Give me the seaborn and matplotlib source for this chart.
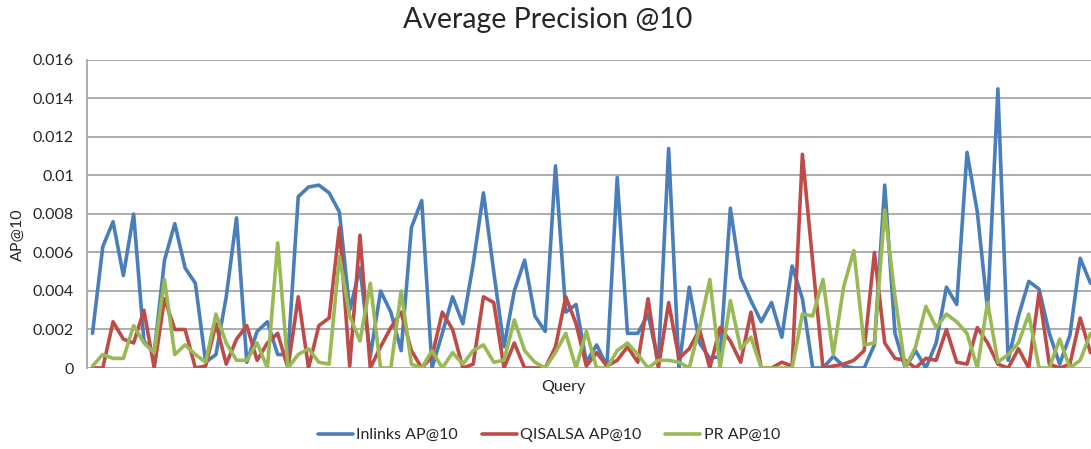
import numpy as np
import pandas as pd
import matplotlib
matplotlib.use("Agg")
import matplotlib.pyplot as plt
import seaborn as sns

# values (one value per query)
inlinks = [0.0018, 0.0063, 0.0076, 0.0048, 0.0080, 0.0014, 0.0008, 0.0056, 0.0075, 0.0052,
           0.0044, 0.0003, 0.0007, 0.0037, 0.0078, 0.0003, 0.0019, 0.0024, 0.0007, 0.0007,
           0.0089, 0.0094, 0.0095, 0.0091, 0.0081, 0.0030, 0.0052, 0.0006, 0.0040, 0.0029,
           0.0009, 0.0073, 0.0087, 0.0000, 0.0018, 0.0037, 0.0023, 0.0054, 0.0091, 0.0050,
           0.0011, 0.0040, 0.0056, 0.0027, 0.0019, 0.0105, 0.0029, 0.0033, 0.0003, 0.0012,
           0.0001, 0.0099, 0.0018, 0.0018, 0.0028, 0.0003, 0.0114, 0.0000, 0.0042, 0.0013,
           0.0005, 0.0006, 0.0083, 0.0047, 0.0035, 0.0024, 0.0034, 0.0016, 0.0053, 0.0036,
           0.0000, 0.0000, 0.0006, 0.0001, 0.0000, 0.0000, 0.0012, 0.0095, 0.0018, 0.0000,
           0.0009, 0.0000, 0.0013, 0.0042, 0.0033, 0.0112, 0.0081, 0.0030, 0.0145, 0.0004,
           0.0027, 0.0045, 0.0041, 0.0018, 0.0002, 0.0017, 0.0057, 0.0044]
qisalsa = [0.0000, 0.0000, 0.0024, 0.0015, 0.0013, 0.0030, 0.0000, 0.0036, 0.0020, 0.0020,
           0.0000, 0.0001, 0.0023, 0.0002, 0.0015, 0.0022, 0.0004, 0.0013, 0.0018, 0.0000,
           0.0037, 0.0000, 0.0022, 0.0026, 0.0073, 0.0001, 0.0069, 0.0000, 0.0011, 0.0021,
           0.0029, 0.0009, 0.0000, 0.0006, 0.0029, 0.0020, 0.0000, 0.0002, 0.0037, 0.0034,
           0.0000, 0.0013, 0.0000, 0.0000, 0.0000, 0.0011, 0.0037, 0.0023, 0.0001, 0.0008,
           0.0001, 0.0004, 0.0011, 0.0003, 0.0036, 0.0000, 0.0034, 0.0005, 0.0010, 0.0020,
           0.0000, 0.0021, 0.0014, 0.0003, 0.0029, 0.0000, 0.0000, 0.0003, 0.0001, 0.0111,
           0.0055, 0.0000, 0.0001, 0.0002, 0.0004, 0.0009, 0.0060, 0.0013, 0.0005, 0.0004,
           0.0000, 0.0005, 0.0004, 0.0020, 0.0003, 0.0002, 0.0021, 0.0013, 0.0002, 0.0000,
           0.0010, 0.0000, 0.0039, 0.0002, 0.0000, 0.0002, 0.0026, 0.0008]
pr = [0.0001, 0.0007, 0.0005, 0.0005, 0.0022, 0.0013, 0.0008, 0.0046, 0.0007, 0.0012,
      0.0007, 0.0003, 0.0028, 0.0013, 0.0004, 0.0004, 0.0013, 0.0000, 0.0065, 0.0000,
      0.0007, 0.0010, 0.0003, 0.0002, 0.0058, 0.0027, 0.0014, 0.0044, 0.0000, 0.0000,
      0.0040, 0.0002, 0.0000, 0.0009, 0.0000, 0.0008, 0.0002, 0.0009, 0.0012, 0.0003,
      0.0004, 0.0025, 0.0009, 0.0003, 0.0000, 0.0008, 0.0018, 0.0000, 0.0019, 0.0000,
      0.0000, 0.0009, 0.0013, 0.0007, 0.0000, 0.0004, 0.0004, 0.0003, 0.0000, 0.0021,
      0.0046, 0.0000, 0.0035, 0.0010, 0.0016, 0.0000, 0.0000, 0.0000, 0.0000, 0.0028,
      0.0027, 0.0046, 0.0007, 0.0042, 0.0061, 0.0012, 0.0013, 0.0082, 0.0037, 0.0000,
      0.0011, 0.0032, 0.0021, 0.0028, 0.0024, 0.0018, 0.0000, 0.0034, 0.0003, 0.0007,
      0.0013, 0.0028, 0.0000, 0.0000, 0.0015, 0.0000, 0.0004, 0.0018]

series_names = ["Inlinks AP@10", "QISALSA AP@10", "PR AP@10"]
colors = ["#4A7EBB", "#BE4B48", "#98B954"]

queries = np.arange(len(inlinks))
df = pd.DataFrame({
    "Query": np.concatenate([queries, queries, queries]),
    "AP@10": np.concatenate([inlinks, qisalsa, pr]),
    "Series": np.repeat(series_names, len(queries)),
})

sns.set_style("white")
plt.rcParams["font.family"] = ["Lato", "DejaVu Sans"]

fig = plt.figure(figsize=(10.91, 4.49), dpi=100)
ax = fig.add_axes([0.0793, 0.1804, 0.9207, 0.686])

sns.lineplot(data=df, x="Query", y="AP@10", hue="Series", palette=colors,
             linewidth=2.6, ax=ax, legend=False, sort=False)

ax.set_xlim(-0.58, 97.05)
ax.set_ylim(0, 0.016)
ax.set_yticks(np.arange(0, 0.0161, 0.002))
ax.set_yticklabels(["0", "0.002", "0.004", "0.006", "0.008", "0.01", "0.012", "0.014", "0.016"])
ax.set_xticks([])
ax.grid(axis="y", color="#A6A6A6", linewidth=1.3)
ax.set_axisbelow(True)
for s in ["top", "right", "bottom"]:
    ax.spines[s].set_visible(False)
ax.spines["left"].set_color("#A6A6A6")
ax.spines["left"].set_linewidth(1.3)
ax.tick_params(axis="y", length=5, color="#A6A6A6", width=1.3, labelsize=11.5, pad=4)

ax.set_xlabel("")
ax.set_ylabel("")
fig.text(0.0165, 0.478, "AP@10", rotation=90, ha="center", va="center", fontsize=11.5)
fig.text(0.516, 0.138, "Query", ha="center", va="center", fontsize=11.5)
fig.text(0.502, 0.955, "Average Precision @10", ha="center", va="center", fontsize=20.5)

handles = [plt.Line2D([], [], color=c, linewidth=2.6) for c in colors]
fig.legend(handles, series_names, loc="center", bbox_to_anchor=(0.503, 0.031), ncol=3,
           frameon=False, fontsize=11.5, handlelength=2.2, handletextpad=0.2,
           columnspacing=1.5)

fig.savefig("out.png", dpi=100)
